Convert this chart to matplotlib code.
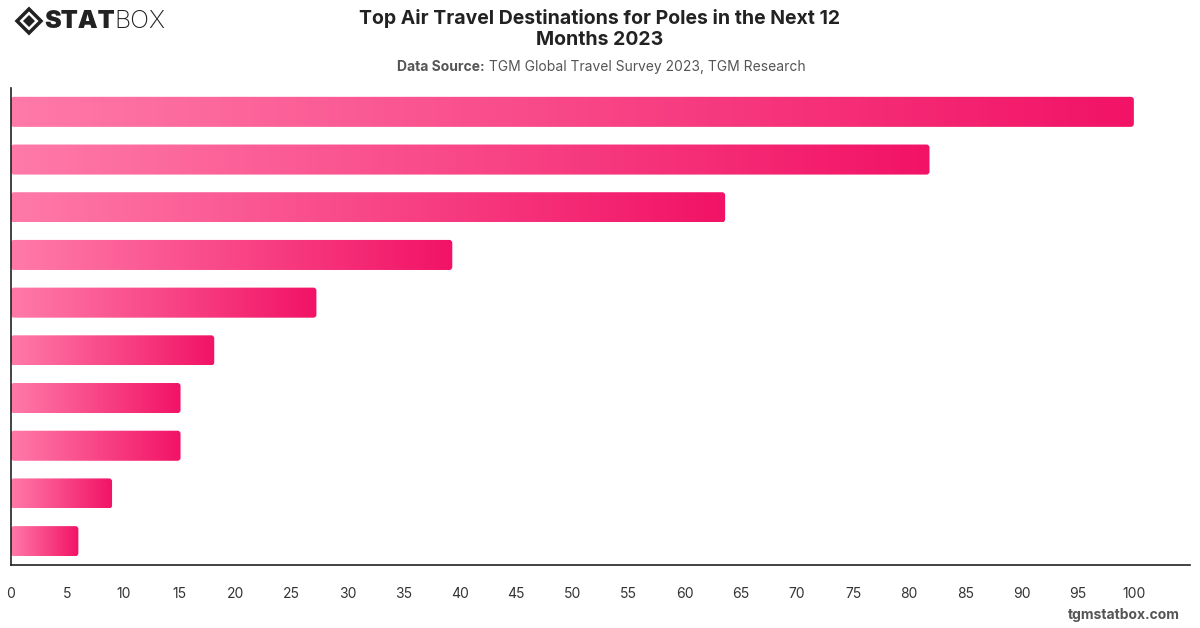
import numpy as np
import matplotlib.pyplot as plt
from matplotlib.patches import FancyBboxPatch, Polygon
from matplotlib.colors import LinearSegmentedColormap

# values (no category labels shown)
ranks = list(range(1, 11))
values = [100, 81.8, 63.6, 39.3, 27.2, 18.1, 15.1, 15.1, 9.0, 6.0]
xticks = list(range(0, 101, 5))

title = "Top Air Travel Destinations for Poles in the Next 12\nMonths 2023"
source_bold = "Data Source:"
source_rest = " TGM Global Travel Survey 2023, TGM Research"

plt.rcParams['font.family'] = ['Inter', 'DejaVu Sans']

fig = plt.figure(figsize=(12, 6.28), dpi=100)
ax = fig.add_axes([11 / 1200, 1 - 565 / 628, 1179 / 1200, 477 / 628])

cmap = LinearSegmentedColormap.from_list("pink", ["#ff7aa8", "#f21366"])
grad = np.linspace(0, 1, 256).reshape(1, -1)

xmax = 105.0
n = len(values)
ax.set_xlim(0, xmax)
ax.set_ylim(n - 0.5, -0.5)

bar_h = 0.63
px_x = xmax / 1179
px_y = n / 477
for i, v in enumerate(values):
    y0 = i - bar_h / 2
    box = FancyBboxPatch((0, y0), v, bar_h,
                         boxstyle="round,pad=0,rounding_size=%f" % (3 * px_x),
                         mutation_aspect=px_y / px_x,
                         facecolor="none", edgecolor="none")
    ax.add_patch(box)
    im = ax.imshow(grad, extent=[0, v, y0 + bar_h, y0], cmap=cmap,
                   aspect="auto", interpolation="bicubic", zorder=2)
    im.set_clip_path(box)

ax.set_xlim(0, xmax)
ax.set_ylim(n - 0.5, -0.5)
ax.set_xticks(xticks)
ax.set_xticklabels([str(t) for t in xticks], fontsize=10, color="#333333")
ax.tick_params(axis="x", length=0, pad=16)
for lab in ax.get_xticklabels():
    lab.set_x(lab.get_position()[0])
ax.set_yticks([])
for s in ["top", "right"]:
    ax.spines[s].set_visible(False)
for s in ["left", "bottom"]:
    ax.spines[s].set_color("#222222")
    ax.spines[s].set_linewidth(1.2)

# title and source
fig.text(0.5, 1 - 29 / 628, title, ha="center", va="center", fontsize=14,
         fontweight="bold", color="#222222", linespacing=1.2)
t1 = fig.text(0.5, 1 - 67 / 628, source_bold + source_rest, ha="center", va="center",
              fontsize=10, color="#555555", alpha=0)
fig.canvas.draw()
bb = t1.get_window_extent()
xl = bb.x0 / 1200
tb = fig.text(xl, 1 - 67 / 628, source_bold, ha="left", va="center",
              fontsize=10, fontweight="bold", color="#555555")
fig.canvas.draw()
bb2 = tb.get_window_extent()
fig.text(bb2.x1 / 1200, 1 - 67 / 628, source_rest, ha="left", va="center",
         fontsize=10, color="#555555")

# logo
cx, cy = 29 / 1200, 1 - 21 / 628
dx, dy = 12 / 1200, 12 / 628
fig.patches.append(Polygon([[cx - dx, cy], [cx, cy + dy], [cx + dx, cy], [cx, cy - dy]],
                           closed=True, transform=fig.transFigure,
                           facecolor="none", edgecolor="#222222", linewidth=2.5))
dx2, dy2 = 6 / 1200, 6 / 628
fig.patches.append(Polygon([[cx - dx2, cy], [cx, cy + dy2], [cx + dx2, cy], [cx, cy - dy2]],
                           closed=True, transform=fig.transFigure,
                           facecolor="#222222", edgecolor="none"))
ls = fig.text(44 / 1200, cy, "STAT", ha="left", va="center", fontsize=18,
              fontweight="black", color="#222222")
fig.canvas.draw()
bb3 = ls.get_window_extent()
fig.text(bb3.x1 / 1200, cy, "BOX", ha="left", va="center", fontsize=18,
         fontweight="light", color="#222222")

fig.text(1180 / 1200, 1 - 615 / 628, "tgmstatbox.com", ha="right", va="center",
         fontsize=10, fontweight="bold", color="#555555")

fig.savefig("out.png", dpi=100)
